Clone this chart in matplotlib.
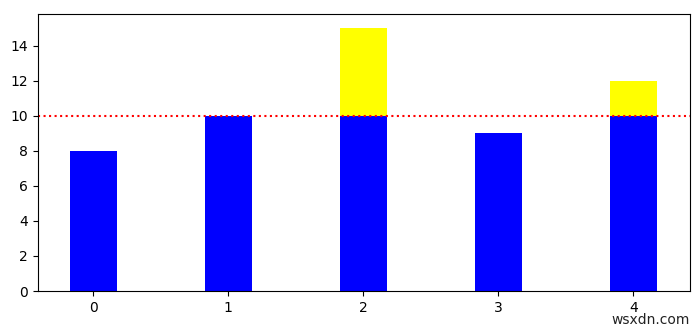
import numpy as np
import matplotlib
matplotlib.use("Agg")
import matplotlib.pyplot as plt

# bar values and the threshold line
positions = [0, 1, 2, 3, 4]
values = np.array([8, 10, 15, 9, 12])
threshold = 10

below = np.minimum(values, threshold)
above = np.maximum(values - threshold, 0)

fig = plt.figure(figsize=(7, 3.27), dpi=100)
ax = fig.add_axes([0.054, 0.11, 0.932, 0.847])

ax.bar(positions, below, width=0.35, color="blue")
ax.bar(positions, above, width=0.35, bottom=below, color="yellow")
ax.axhline(threshold, color="red", linestyle=":")

ax.set_xlim(-0.41, 4.42)
ax.set_ylim(0, 15.8)
ax.set_yticks(range(0, 16, 2))

fig.text(0.985, 0.0, "wsxdn.com", ha="right", va="bottom", fontsize=10, color="#222222")

fig.savefig("out.png", dpi=100)
